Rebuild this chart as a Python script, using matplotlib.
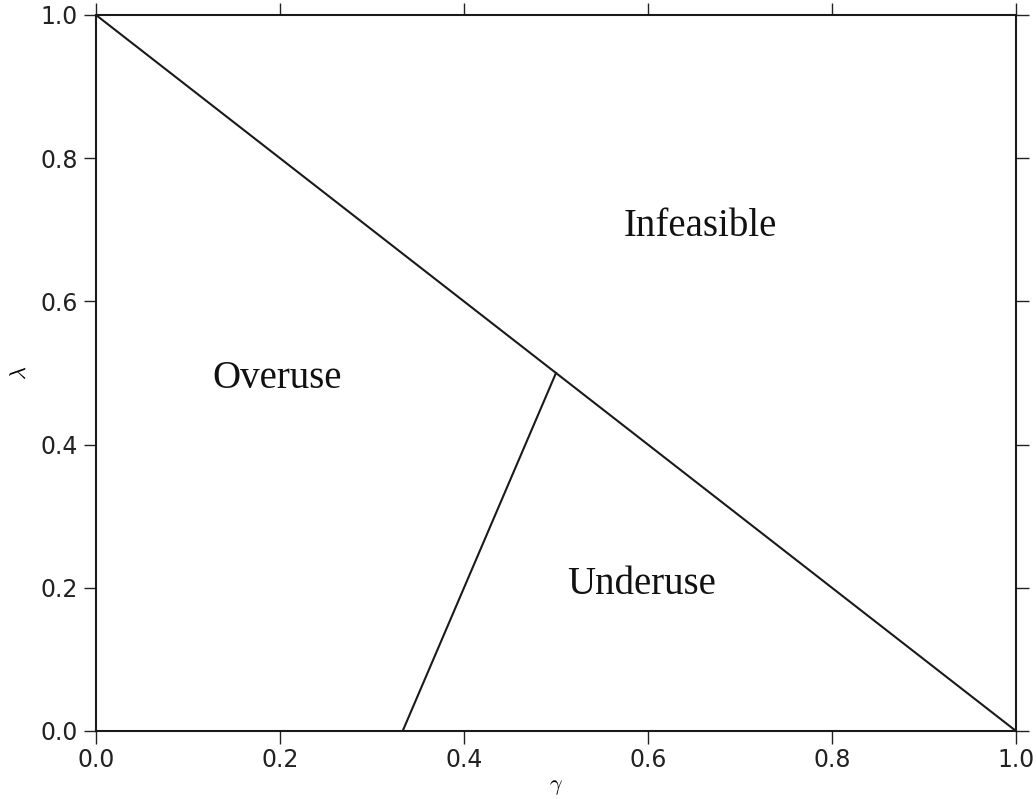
import numpy as np
import matplotlib.pyplot as plt

# boundary lines (gamma, lambda)
feasible_gamma = [0.0, 1.0]
feasible_lambda = [1.0, 0.0]
split_gamma = [1.0 / 3.0, 0.5]
split_lambda = [0.0, 0.5]

region_names = ["Infeasible", "Overuse", "Underuse"]
region_gamma = [0.657, 0.197, 0.593]
region_lambda = [0.705, 0.493, 0.204]

ticks = [0.0, 0.2, 0.4, 0.6, 0.8, 1.0]

plt.rcParams['mathtext.fontset'] = 'cm'

fig = plt.figure(figsize=(10.36, 7.99), dpi=100)
ax = fig.add_axes([96 / 1036, 68 / 799, 920 / 1036, 716 / 799])

ax.plot(feasible_gamma, feasible_lambda, color='#1a1a1a', lw=1.5)
ax.plot(split_gamma, split_lambda, color='#1a1a1a', lw=1.5)

for name, g, l in zip(region_names, region_gamma, region_lambda):
    ax.text(g, l, name, family='Liberation Serif', fontsize=28,
            ha='center', va='center', color='#111111')

ax.set_xlim(0, 1)
ax.set_ylim(0, 1)
ax.set_xticks(ticks)
ax.set_yticks(ticks)
ax.set_xticklabels(["%.1f" % t for t in ticks])
ax.set_yticklabels(["%.1f" % t for t in ticks])
ax.tick_params(direction='out', length=9, width=1, labelsize=17, colors='#222222',
               top=True, right=True, pad=4)
ax.tick_params(axis='x', pad=3)
for s in ax.spines.values():
    s.set_linewidth(1.5)
    s.set_color('#1a1a1a')

ax.set_xlabel(r'$\gamma$', fontsize=16, labelpad=4)
ax.set_ylabel(r'$\lambda$', fontsize=16, labelpad=8)

fig.savefig('out.png', dpi=100)
